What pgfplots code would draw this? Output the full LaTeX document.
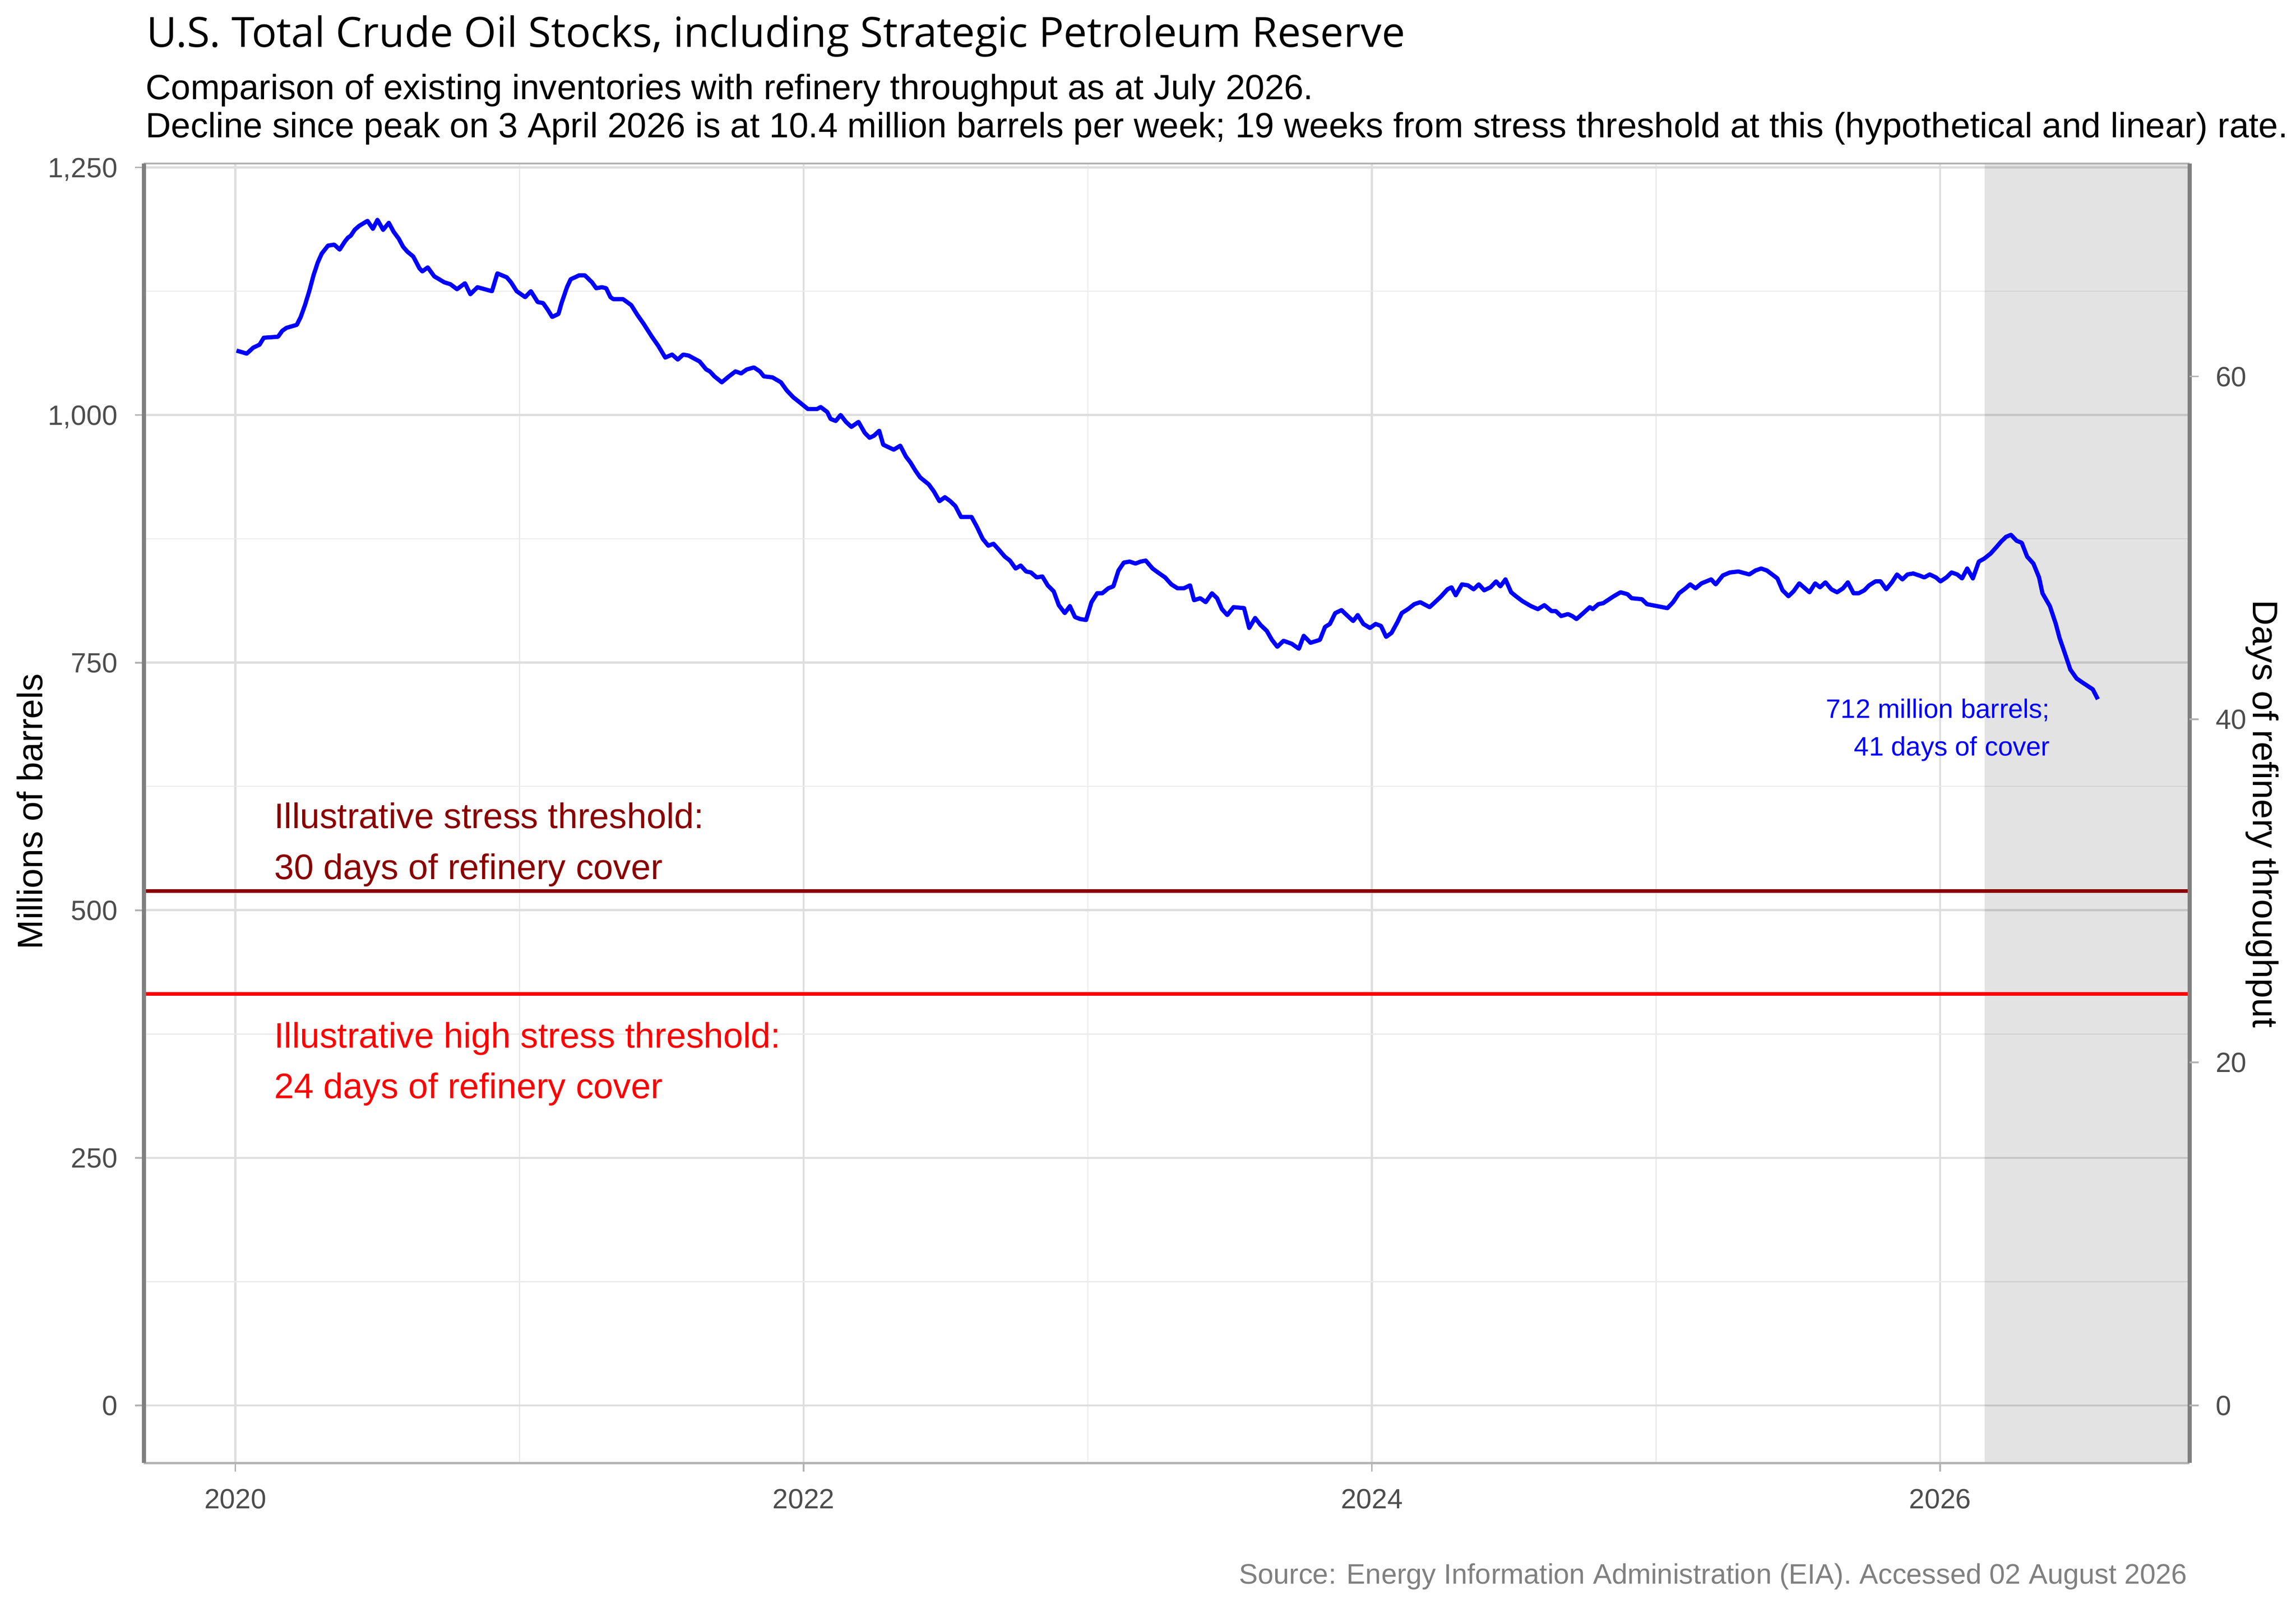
\documentclass[border=0pt]{standalone}
\usepackage{fontspec}
\setmainfont{Liberation Sans}
\newfontfamily\titlefont{Open Sans}
\usepackage{pgfplots}
\pgfplotsset{compat=1.18}
\usepackage{pgfplotstable}
\definecolor{gridmaj}{HTML}{DEDEDE}
\definecolor{gridmin}{HTML}{EBEBEB}
\definecolor{axgray}{HTML}{808080}
\definecolor{bordergray}{HTML}{B3B3B3}
\definecolor{ticktext}{HTML}{4D4D4D}
\definecolor{darkred}{HTML}{8B0000}
\definecolor{capgray}{HTML}{808080}

\pgfplotstableread{
x y
2020.004 1065
2020.040 1062
2020.063 1068
2020.085 1071
2020.100 1078
2020.150 1079
2020.165 1085
2020.180 1088
2020.216 1091
2020.230 1099
2020.245 1111
2020.260 1125
2020.275 1141
2020.290 1154
2020.304 1163
2020.326 1171
2020.348 1172
2020.367 1167
2020.385 1175
2020.396 1179
2020.406 1181
2020.420 1187
2020.436 1191
2020.465 1196
2020.484 1188
2020.500 1197
2020.520 1187
2020.540 1194
2020.557 1185
2020.575 1178
2020.590 1170
2020.605 1165
2020.626 1160
2020.648 1148
2020.658 1145
2020.677 1149
2020.700 1140
2020.735 1134
2020.757 1132
2020.780 1127
2020.808 1133
2020.827 1122
2020.852 1129
2020.903 1125
2020.922 1143
2020.955 1139
2020.970 1134
2020.990 1125
2021.020 1119
2021.040 1125
2021.064 1114
2021.083 1113
2021.100 1106
2021.115 1099
2021.137 1102
2021.148 1113
2021.167 1129
2021.180 1137
2021.210 1141
2021.230 1141
2021.255 1134
2021.270 1128
2021.290 1129
2021.305 1128
2021.320 1119
2021.330 1117
2021.364 1117
2021.393 1111
2021.415 1101
2021.437 1092
2021.466 1079
2021.488 1070
2021.513 1058
2021.537 1061
2021.557 1056
2021.576 1061
2021.595 1060
2021.634 1054
2021.657 1046
2021.670 1044
2021.686 1039
2021.712 1033
2021.737 1039
2021.760 1044
2021.780 1042
2021.800 1046
2021.825 1048
2021.846 1044
2021.860 1039
2021.890 1038
2021.920 1033
2021.940 1025
2021.963 1018
2021.985 1013
2022.015 1006
2022.047 1006
2022.060 1008
2022.083 1003
2022.095 996
2022.113 994
2022.130 1000
2022.149 993
2022.168 988
2022.193 993
2022.215 982
2022.232 977
2022.247 979
2022.266 984
2022.280 970
2022.317 965
2022.340 969
2022.360 958
2022.376 952
2022.393 944
2022.410 937
2022.440 930
2022.458 923
2022.478 913
2022.497 917
2022.516 913
2022.534 908
2022.554 897
2022.591 897
2022.610 887
2022.630 875
2022.650 868
2022.668 870
2022.687 864
2022.708 857
2022.726 853
2022.746 845
2022.764 848
2022.783 842
2022.800 841
2022.820 836
2022.840 837
2022.859 828
2022.880 822
2022.898 808
2022.919 800
2022.937 807
2022.955 796
2022.973 794
2022.994 793
2023.013 811
2023.033 820
2023.051 820
2023.072 825
2023.090 827
2023.108 843
2023.127 851
2023.147 852
2023.168 850
2023.186 852
2023.204 853
2023.228 845
2023.247 841
2023.272 836
2023.294 829
2023.316 825
2023.338 825
2023.360 828
2023.374 813
2023.396 815
2023.415 811
2023.437 820
2023.455 815
2023.472 804
2023.491 798
2023.513 806
2023.550 805
2023.568 785
2023.589 795
2023.608 788
2023.630 782
2023.648 773
2023.667 766
2023.689 772
2023.718 769
2023.743 764
2023.760 777
2023.784 770
2023.817 773
2023.835 786
2023.852 789
2023.871 800
2023.893 803
2023.915 797
2023.934 792
2023.950 798
2023.970 789
2023.993 785
2024.013 789
2024.032 787
2024.050 776
2024.069 780
2024.090 791
2024.105 800
2024.127 804
2024.149 809
2024.170 811
2024.203 806
2024.222 811
2024.244 817
2024.266 824
2024.280 826
2024.295 818
2024.317 829
2024.338 828
2024.358 824
2024.376 829
2024.395 823
2024.417 826
2024.437 832
2024.452 827
2024.470 834
2024.490 821
2024.507 817
2024.530 812
2024.560 807
2024.584 804
2024.607 808
2024.632 802
2024.647 802
2024.666 797
2024.690 799
2024.705 797
2024.720 794
2024.740 799
2024.767 806
2024.777 804
2024.797 809
2024.814 810
2024.851 817
2024.875 821
2024.900 819
2024.914 815
2024.950 814
2024.968 809
2025.004 807
2025.040 805
2025.060 811
2025.081 820
2025.104 825
2025.120 829
2025.139 825
2025.160 830
2025.194 834
2025.210 829
2025.235 838
2025.260 841
2025.290 842
2025.328 839
2025.350 843
2025.370 845
2025.390 843
2025.404 840
2025.427 835
2025.445 823
2025.466 817
2025.484 822
2025.504 830
2025.520 826
2025.540 821
2025.560 830
2025.577 826
2025.596 831
2025.617 824
2025.637 821
2025.658 825
2025.675 831
2025.695 820
2025.713 820
2025.733 823
2025.750 828
2025.772 832
2025.790 832
2025.810 824
2025.830 831
2025.848 839
2025.867 834
2025.885 839
2025.905 840
2025.926 838
2025.944 836
2025.963 839
2025.985 836
2026.001 832
2026.022 836
2026.040 841
2026.060 839
2026.077 835
2026.095 845
2026.115 835
2026.136 852
2026.155 855
2026.177 860
2026.196 866
2026.214 872
2026.232 877
2026.249 879
2026.269 873
2026.287 871
2026.306 857
2026.328 850
2026.348 836
2026.360 820
2026.386 807
2026.407 789
2026.420 775
2026.438 760
2026.458 743
2026.480 734
2026.500 730
2026.516 727
2026.537 723
2026.555 713
}\stocks

\begin{document}
\begin{tikzpicture}
\useasboundingbox (-37.6bp,-37.8bp) rectangle (562.4bp,382.2bp);
\begin{axis}[
  scale only axis,
  width=534.6bp, height=339.5bp,
  xmin=2019.678, xmax=2026.878,
  ymin=-58, ymax=1254,
  axis line style={draw=none},
  xtick={2020,2022,2024,2026},
  xticklabels={2020,2022,2024,2026},
  minor xtick={2021,2023,2025},
  ytick={0,250,500,750,1000,1250},
  yticklabels={0,250,500,750,{1,000},{1,250}},
  minor ytick={125,375,625,875,1125},
  grid=both,
  major grid style={color=gridmaj, line width=0.55bp},
  minor grid style={color=gridmin, line width=0.3bp},
  tick align=outside,
  xtick pos=bottom, ytick pos=left,
  major tick length=2.3bp, minor tick length=0pt,
  tick style={color=bordergray, line width=0.45bp},
  xticklabel style={font=\fontsize{7.3}{8}\selectfont, color=ticktext, anchor=base, inner sep=0pt, yshift=-9.6bp},
  yticklabel style={font=\fontsize{7.3}{8}\selectfont, color=ticktext, anchor=base east, inner sep=0pt, xshift=-4.4bp, yshift=-2.6bp},
  clip=false,
]
\addplot[draw=none, fill=black, fill opacity=0.11] coordinates {(2026.157,-58) (2026.878,-58) (2026.878,1254) (2026.157,1254)} -- cycle;
\addplot[color=darkred, line width=0.95bp] coordinates {(2019.678,519.5) (2026.878,519.5)};
\addplot[color=red, line width=0.95bp] coordinates {(2019.678,415.6) (2026.878,415.6)};
\addplot[color=blue, line width=1.1bp, line join=round] table[x=x,y=y] {\stocks};
\draw[color=bordergray, line width=0.45bp] (rel axis cs:0,1) -- (rel axis cs:1,1);
\draw[color=bordergray, line width=0.6bp] (rel axis cs:0,0) -- (rel axis cs:1,0);
\draw[color=axgray, line width=1.05bp] (rel axis cs:0,0) -- (rel axis cs:0,1);
\draw[color=axgray, line width=1.05bp] (rel axis cs:1,0) -- (rel axis cs:1,1);
\end{axis}
\begin{axis}[
  scale only axis,
  width=534.6bp, height=339.5bp,
  xmin=2019.678, xmax=2026.878,
  ymin=-3.349, ymax=72.414,
  axis line style={draw=none},
  xtick=\empty,
  ytick={0,20,40,60},
  yticklabels={0,20,40,60},
  ytick pos=right,
  tick align=outside,
  major tick length=2.3bp,
  tick style={color=bordergray, line width=0.45bp},
  yticklabel style={font=\fontsize{7.3}{8}\selectfont, color=ticktext, anchor=base west, inner sep=0pt, xshift=4.3bp, yshift=-2.6bp},
]
\end{axis}
% titles
\node[anchor=base west, inner sep=0pt] at (0.5bp,369.9bp) {\titlefont\fontsize{10.9}{12}\selectfont U.S. Total Crude Oil Stocks, including Strategic Petroleum Reserve};
\node[anchor=base west, inner sep=0pt] at (0.3bp,356.2bp) {\fontsize{9.2}{10}\selectfont Comparison of existing inventories with refinery throughput as at July 2026.};
\node[anchor=base west, inner sep=0pt] at (0.3bp,346.3bp) {\fontsize{9.2}{10}\selectfont Decline since peak on 3 April 2026 is at 10.4 million barrels per week; 19 weeks from stress threshold at this (hypothetical and linear) rate.};
% axis titles
\node[anchor=base, rotate=90, inner sep=0pt] at (-26.5bp,170.2bp) {\fontsize{9.3}{11}\selectfont Millions of barrels};
\node[anchor=base, rotate=-90, inner sep=0pt] at (551.2bp,169.5bp) {\fontsize{9.3}{11}\selectfont Days of refinery throughput};
% annotations
\node[anchor=base west, inner sep=0pt, color=darkred] at (33.9bp,165.8bp) {\fontsize{9.3}{11}\selectfont Illustrative stress threshold:};
\node[anchor=base west, inner sep=0pt, color=darkred] at (33.9bp,152.5bp) {\fontsize{9.3}{11}\selectfont 30 days of refinery cover};
\node[anchor=base west, inner sep=0pt, color=red] at (33.9bp,108.4bp) {\fontsize{9.3}{11}\selectfont Illustrative high stress threshold:};
\node[anchor=base west, inner sep=0pt, color=red] at (33.9bp,95.2bp) {\fontsize{9.3}{11}\selectfont 24 days of refinery cover};
\node[anchor=base east, inner sep=0pt, color=blue] at (498.3bp,194.6bp) {\fontsize{7}{8}\selectfont 712 million barrels;};
\node[anchor=base east, inner sep=0pt, color=blue] at (498.3bp,184.7bp) {\fontsize{7}{8}\selectfont 41 days of cover};
% caption
\node[anchor=base east, inner sep=0pt, color=capgray] at (534.2bp,-31.6bp) {\fontsize{7.4}{8}\selectfont Source: Energy Information Administration (EIA). Accessed 02 August 2026};
\end{tikzpicture}
\end{document}
